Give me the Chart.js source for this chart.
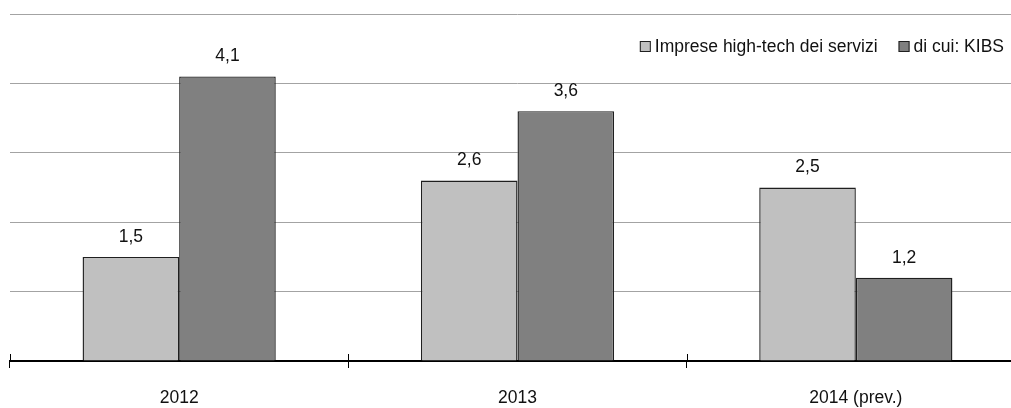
<!DOCTYPE html>
<html>
<head>
<meta charset="utf-8">
<script src="https://cdn.jsdelivr.net/npm/chart.js@4.4.0/dist/chart.umd.min.js"></script>
<style>
    html, body { margin: 0; padding: 0; background: #fff; overflow: hidden; }
    #wrap { width: 1011px; height: 408px; overflow: hidden; }
</style>
</head>
<body>
<div id="wrap"><canvas id="chart" width="1025" height="408"></canvas></div>
<script>
// Data
const categories = ['2012', '2013', '2014 (prev.)'];
const seriesNames = ['Imprese high-tech dei servizi', 'di cui: KIBS'];
const hiTechValues = [1.5, 2.6, 2.5];
const kibsValues = [4.1, 3.6, 1.2];
const yMin = 0;
const yMax = 5;
const yStep = 1;

const colors = {
    light: '#c0c0c0',
    dark: '#808080',
    border: '#1f1f1f',
    grid: '#a3a3a3',
    text: '#111'
};
const fontFamily = '"Liberation Sans", Arial, sans-serif';
const fontSize = 17.5;

// value labels above the bars, italian decimal comma
const valueLabels = {
    id: 'valueLabels',
    afterDatasetsDraw(chart) {
        const ctx = chart.ctx;
        ctx.save();
        ctx.fillStyle = colors.text;
        ctx.font = fontSize + 'px ' + fontFamily;
        ctx.textAlign = 'center';
        ctx.textBaseline = 'middle';
        chart.getSortedVisibleDatasetMetas().forEach(meta => {
            const values = chart.data.datasets[meta.index].data;
            meta.data.forEach((bar, i) => {
                const txt = values[i].toFixed(1).replace('.', ',');
                ctx.fillText(txt, bar.x, bar.y - 20);
            });
        });
        ctx.restore();
    }
};

// small tick marks crossing the category axis (upper half)
const crossTicks = {
    id: 'crossTicks',
    afterDraw(chart) {
        const x = chart.scales.x;
        const ctx = chart.ctx;
        const step = x.getPixelForValue(1) - x.getPixelForValue(0);
        ctx.save();
        ctx.strokeStyle = '#000';
        ctx.lineWidth = 1;
        for (let i = 0; i <= categories.length; i++) {
            const px = Math.round(x.getPixelForValue(i) - step / 2) + 0.5;
            ctx.beginPath();
            ctx.moveTo(px, x.top - 7);
            ctx.lineTo(px, x.top);
            ctx.stroke();
        }
        ctx.restore();
    }
};

// legend inside the plot, top right
const insideLegend = {
    id: 'insideLegend',
    afterDraw(chart) {
        const ctx = chart.ctx;
        const area = chart.chartArea;
        const box = 11;
        const gap = 4;
        const itemGap = 21;
        ctx.save();
        ctx.font = fontSize + 'px ' + fontFamily;
        ctx.textBaseline = 'middle';
        const items = chart.data.datasets.map(ds => ({
            label: ds.label,
            fill: ds.backgroundColor,
            w: box + gap + ctx.measureText(ds.label).width
        }));
        const total = items.reduce((s, it) => s + it.w, 0) + itemGap * (items.length - 1);
        let cx = area.right - 21 - total;
        const top = area.top + 27;
        items.forEach(it => {
            ctx.fillStyle = it.fill;
            ctx.fillRect(cx, top, box, box);
            ctx.strokeStyle = colors.border;
            ctx.lineWidth = 1;
            ctx.strokeRect(cx + 0.5, top + 0.5, box - 1, box - 1);
            ctx.fillStyle = colors.text;
            ctx.fillText(it.label, cx + box + gap, top + box / 2 + 1);
            cx += it.w + itemGap;
        });
        ctx.restore();
    }
};

new Chart(document.getElementById('chart'), {
    type: 'bar',
    data: {
        labels: categories,
        datasets: [
            {
                label: seriesNames[0],
                data: hiTechValues,
                backgroundColor: colors.light,
                borderColor: colors.border,
                borderWidth: 1.4,
                categoryPercentage: 0.571,
                barPercentage: 1
            },
            {
                label: seriesNames[1],
                data: kibsValues,
                backgroundColor: colors.dark,
                borderColor: colors.border,
                borderWidth: 1.4,
                categoryPercentage: 0.571,
                barPercentage: 1
            }
        ]
    },
    options: {
        responsive: false,
        animation: false,
        devicePixelRatio: 1,
        layout: {
            padding: { left: 10, top: 14, right: 0, bottom: 0 }
        },
        plugins: {
            legend: { display: false },
            tooltip: { enabled: false }
        },
        scales: {
            x: {
                afterFit(scale) { scale.height = 47; },
                grid: {
                    offset: true,
                    drawOnChartArea: false,
                    drawTicks: true,
                    tickLength: 7,
                    color: '#000',
                    lineWidth: 1
                },
                border: { display: true, color: '#000', width: 2 },
                ticks: {
                    color: colors.text,
                    font: { family: fontFamily, size: fontSize },
                    padding: 20,
                    maxRotation: 0
                }
            },
            y: {
                min: yMin,
                max: yMax,
                ticks: { display: false, stepSize: yStep },
                grid: {
                    color: colors.grid,
                    lineWidth: 1,
                    drawTicks: false
                },
                border: { display: false }
            }
        }
    },
    plugins: [valueLabels, crossTicks, insideLegend]
});
</script>
</body>
</html>
